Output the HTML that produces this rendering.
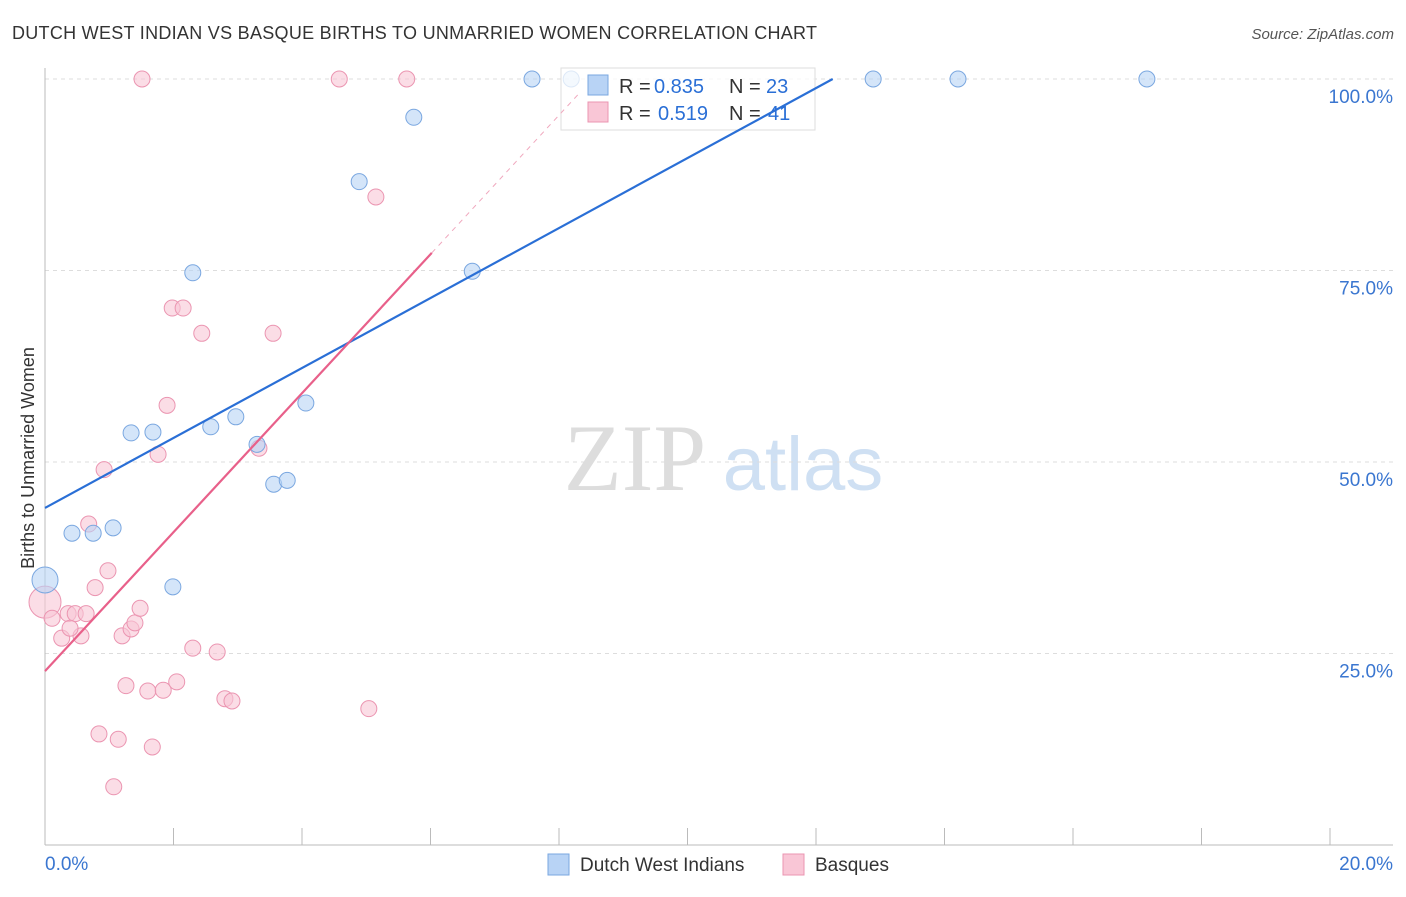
<!DOCTYPE html>
<html><head><meta charset="utf-8"><style>
body{margin:0;background:#fff;font-family:"Liberation Sans",sans-serif}
</style></head><body>
<svg width="1406" height="892" xmlns="http://www.w3.org/2000/svg" id="c">
<text x="12" y="39" font-size="18" fill="#333" textLength="805">DUTCH WEST INDIAN VS BASQUE BIRTHS TO UNMARRIED WOMEN CORRELATION CHART</text>
<text x="1394" y="39" font-size="15" fill="#555" font-style="italic" text-anchor="end">Source: ZipAtlas.com</text>
<text x="34" y="458" font-size="18" fill="#333" text-anchor="middle" transform="rotate(-90 34 458)">Births to Unmarried Women</text>
<g><text x="635" y="490" font-size="95" fill="#ddd" font-family="Liberation Serif" text-anchor="middle">ZIP</text><text x="803" y="490" font-size="76" fill="#cfe0f3" text-anchor="middle">atlas</text></g>
<g id="grid"></g><g id="axes"></g>
<g id="pts"></g>
<g>
<rect x="561" y="68" width="254" height="62" fill="#fff" fill-opacity="0.75" stroke="#ddd"/>
<rect x="588" y="75" width="20" height="20" fill="#b8d3f5" stroke="#7aa7e0"/>
<text x="619" y="93" font-size="20" fill="#333">R =</text><text x="654" y="93" font-size="20" fill="#2a6fd6">0.835</text>
<text x="729" y="93" font-size="20" fill="#333">N =</text><text x="766" y="93" font-size="20" fill="#2a6fd6">23</text>
<rect x="588" y="102" width="20" height="20" fill="#f9c6d6" stroke="#eb95b1"/>
<text x="619" y="120" font-size="20" fill="#333">R =</text><text x="658" y="120" font-size="20" fill="#2a6fd6">0.519</text>
<text x="729" y="120" font-size="20" fill="#333">N =</text><text x="768" y="120" font-size="20" fill="#2a6fd6">41</text>
</g>
<g id="lines"></g>
<g>
<rect x="548" y="854" width="21" height="21" fill="#b8d3f5" stroke="#7aa7e0"/>
<text x="580" y="871" font-size="19" fill="#333">Dutch West Indians</text>
<rect x="783" y="854" width="21" height="21" fill="#f9c6d6" stroke="#eb95b1"/>
<text x="815" y="871" font-size="19" fill="#333">Basques</text>
</g>
</svg>
<script>
const blueX=[0,0.42,0.75,1.06,1.34,1.68,1.99,2.30,2.58,2.97,3.30,3.56,3.77,4.06,4.89,5.74,6.65,7.58,8.19,12.89,14.21,17.15];
const blueY=[34.6,40.7,40.7,41.4,53.8,53.9,33.7,74.7,54.6,55.9,52.3,47.1,47.6,57.7,86.6,95.0,74.9,100,100,100,100,100];
const pinkX=[0,0.11,0.26,0.36,0.47,0.56,0.64,0.39,0.78,0.92,0.68,0.98,0.84,1.07,1.14,1.20,1.26,1.34,1.40,1.48,1.60,1.67,1.76,1.84,1.90,1.98,2.05,2.15,2.30,2.44,2.68,2.80,2.91,3.33,3.55,5.04,5.15,1.51,4.58,5.63];
const pinkY=[31.7,29.6,27.0,30.2,30.2,27.3,30.2,28.3,33.6,49.0,41.9,35.8,14.5,7.6,13.8,27.3,20.8,28.2,29.0,30.9,20.1,12.8,51.0,20.2,57.4,70.1,21.3,70.1,25.7,66.8,25.2,19.1,18.8,51.8,66.8,17.8,84.6,100,100,100];
const yTicks=[25,50,75,100];
const yTickLabels=["25.0%","50.0%","75.0%","100.0%"];
const blueLine=[0,44.0,12.26,100];
const pinkLine=[0,22.7,6.02,77.3,8.3,98];
const X=v=>45+v*64.25, Y=v=>845-v*7.66;
const NS="http://www.w3.org/2000/svg";
function mk(p,t,a){const e=document.createElementNS(NS,t);for(const k in a)e.setAttribute(k,a[k]);p.appendChild(e);return e;}
const g=document.getElementById('grid'),ax=document.getElementById('axes'),ln=document.getElementById('lines'),pt=document.getElementById('pts');
yTicks.forEach((t,i)=>{const l=mk(g,'line',{x1:45,x2:1393,y1:Y(t),y2:Y(t),stroke:'#ddd','stroke-dasharray':'4,4'});


const tx=mk(g,'text',{x:1393,y:Y(t)+24,'font-size':19,fill:'#3a76d0','text-anchor':'end'});tx.textContent=yTickLabels[i];

});
mk(ax,'line',{x1:45,x2:45,y1:68,y2:845,stroke:'#bbb'});
mk(ax,'line',{x1:45,x2:1393,y1:845,y2:845,stroke:'#bbb'});
for(let i=0;i<=10;i++){const t=mk(ax,'line',{x1:X(i*2),x2:X(i*2),y1:828,y2:845,stroke:'#bbb'});

}
const x0=mk(ax,'text',{x:45,y:870,'font-size':19,fill:'#3a76d0'});x0.textContent='0.0%';


const x1=mk(ax,'text',{x:1393,y:870,'font-size':19,fill:'#3a76d0','text-anchor':'end'});x1.textContent='20.0%';


const bl=mk(ln,'line',{x1:X(blueLine[0]),y1:Y(blueLine[1]),x2:X(blueLine[2]),y2:Y(blueLine[3]),stroke:'#2a6fd6','stroke-width':2.2});


const pl=mk(ln,'line',{x1:X(pinkLine[0]),y1:Y(pinkLine[1]),x2:X(pinkLine[2]),y2:Y(pinkLine[3]),stroke:'#e8608a','stroke-width':2.2});


const pd=mk(ln,'line',{x1:X(pinkLine[2]),y1:Y(pinkLine[3]),x2:X(pinkLine[4]),y2:Y(pinkLine[5]),stroke:'#f0a8be','stroke-width':1,'stroke-dasharray':'5,5'});


pinkX.forEach((x,i)=>{const c=mk(pt,'circle',{cx:X(x),cy:Y(pinkY[i]),r:i==0?16:8,fill:'#f9c6d6','fill-opacity':0.6,stroke:'#eb95b1'});

});
blueX.forEach((x,i)=>{const c=mk(pt,'circle',{cx:X(x),cy:Y(blueY[i]),r:i==0?13:8,fill:'#b8d3f5','fill-opacity':0.6,stroke:'#7aa7e0'});

});
</script>
</body></html>
